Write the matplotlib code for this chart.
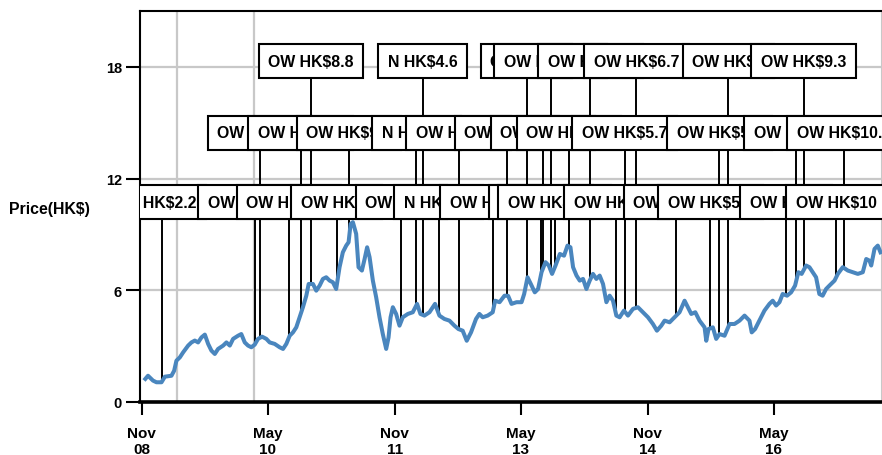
import numpy as np
import pandas as pd
import matplotlib
matplotlib.use("Agg")
import matplotlib.pyplot as plt
import matplotlib.dates as mdates

plt.rcParams['font.family'] = ['Liberation Sans', 'DejaVu Sans']

# ---------------- data ----------------
# price series: time in decimal years, price in HK$
price_t = [2008.876, 2008.908, 2008.967, 2009.006, 2009.066, 2009.106, 2009.184, 2009.216, 2009.243,
           2009.284, 2009.323, 2009.382, 2009.421, 2009.461, 2009.500, 2009.540, 2009.580, 2009.619,
           2009.658, 2009.698, 2009.737, 2009.797, 2009.836, 2009.876, 2009.915, 2009.974, 2010.013,
           2010.054, 2010.093, 2010.132, 2010.172, 2010.211, 2010.259, 2010.310, 2010.350, 2010.409,
           2010.468, 2010.508, 2010.547, 2010.587, 2010.626, 2010.665, 2010.705, 2010.744, 2010.784,
           2010.812, 2010.863, 2010.902, 2010.942, 2010.981, 2011.021, 2011.061, 2011.100, 2011.139,
           2011.179, 2011.218, 2011.258, 2011.286, 2011.310, 2011.337, 2011.376, 2011.404, 2011.444,
           2011.476, 2011.506, 2011.535, 2011.574, 2011.613, 2011.653, 2011.692, 2011.732, 2011.760,
           2011.784, 2011.811, 2011.850, 2011.890, 2011.929, 2011.989, 2012.048, 2012.099, 2012.139,
           2012.186, 2012.246, 2012.312, 2012.364, 2012.423, 2012.483, 2012.542, 2012.589, 2012.640,
           2012.688, 2012.739, 2012.798, 2012.838, 2012.877, 2012.936, 2012.996, 2013.023, 2013.075,
           2013.134, 2013.177, 2013.217, 2013.277, 2013.336, 2013.367, 2013.407, 2013.446, 2013.493,
           2013.532, 2013.573, 2013.620, 2013.659, 2013.698, 2013.739, 2013.790, 2013.840, 2013.881,
           2013.916, 2013.947, 2013.988, 2014.027, 2014.066, 2014.106, 2014.145, 2014.184, 2014.224,
           2014.263, 2014.303, 2014.343, 2014.382, 2014.421, 2014.461, 2014.500, 2014.551, 2014.599,
           2014.658, 2014.717, 2014.776, 2014.836, 2014.895, 2014.942, 2014.994, 2015.034, 2015.093,
           2015.152, 2015.211, 2015.271, 2015.310, 2015.350, 2015.398, 2015.448, 2015.508, 2015.528,
           2015.555, 2015.606, 2015.646, 2015.685, 2015.745, 2015.804, 2015.863, 2015.923, 2015.982,
           2016.041, 2016.068, 2016.108, 2016.159, 2016.219, 2016.278, 2016.317, 2016.357, 2016.397,
           2016.435, 2016.487, 2016.535, 2016.582, 2016.621, 2016.660, 2016.713, 2016.752, 2016.791,
           2016.831, 2016.870, 2016.909, 2016.950, 2016.989, 2017.048, 2017.087, 2017.146, 2017.206,
           2017.265, 2017.324, 2017.383, 2017.424, 2017.463, 2017.483, 2017.522, 2017.561, 2017.593]
price_v = [1.24, 1.41, 1.15, 1.06, 1.06, 1.36, 1.41, 1.68, 2.22,
           2.40, 2.67, 3.03, 3.20, 3.30, 3.20, 3.47, 3.62, 3.12,
           2.76, 2.58, 2.85, 3.03, 3.20, 3.03, 3.39, 3.56, 3.65,
           3.20, 3.03, 2.94, 3.08, 3.39, 3.51, 3.39, 3.20, 3.12,
           2.94, 2.85, 3.12, 3.56, 3.74, 4.01, 4.55, 5.09, 5.71,
           6.34, 6.34, 5.98, 6.25, 6.61, 6.70, 6.52, 6.43, 6.07,
           7.24, 8.04, 8.40, 8.58, 9.56, 9.66, 9.03, 7.24, 7.06,
           7.68, 8.31, 7.78, 6.52, 5.63, 4.55, 3.65, 2.85, 3.47,
           4.55, 5.09, 4.73, 4.10, 4.55, 4.73, 4.82, 5.27, 4.73,
           4.64, 4.82, 5.27, 4.64, 4.46, 4.37, 4.10, 3.92, 3.83,
           3.29, 3.74, 4.46, 4.73, 4.55, 4.64, 4.82, 5.44, 5.36,
           5.71, 5.70, 5.27, 5.36, 5.36, 5.80, 6.70, 6.34, 5.89,
           6.07, 6.97, 7.51, 7.33, 6.88, 7.33, 7.95, 7.86, 8.40,
           8.31, 7.24, 6.79, 6.52, 6.61, 6.07, 6.52, 6.88, 6.61,
           6.79, 6.34, 5.36, 5.71, 5.44, 4.64, 4.55, 4.91, 4.64,
           5.00, 5.09, 4.82, 4.55, 4.19, 3.83, 4.10, 4.37, 4.28,
           4.55, 4.82, 5.44, 5.09, 4.73, 4.82, 4.37, 4.01, 3.29,
           3.92, 4.01, 3.39, 3.65, 3.56, 4.19, 4.19, 4.37, 4.64,
           4.37, 3.74, 3.92, 4.37, 4.91, 5.27, 5.44, 5.18, 5.36,
           5.80, 5.71, 5.89, 6.25, 6.97, 6.88, 7.33, 7.24, 6.97,
           6.70, 5.80, 5.71, 6.07, 6.25, 6.52, 6.88, 7.24, 7.06,
           6.97, 6.88, 6.97, 7.68, 7.59, 7.33, 8.22, 8.40, 8.04]

# analyst rating events, three label rows
row1_t = [2010.839, 2012.166, 2013.395, 2013.683, 2014.153, 2014.698, 2015.788, 2016.684]
row1_labels = ['OW HK$8.8', 'N HK$4.6', 'OW HK$7', 'OW HK$10.2', 'OW HK$7.5', 'OW HK$6.7',
               'OW HK$6', 'OW HK$9.3']
row2_t = [2010.235, 2010.717, 2011.289, 2012.092, 2012.593, 2013.162, 2013.588, 2013.896,
          2014.560, 2015.685, 2016.597, 2017.160]
row2_labels = ['OW HK$4.2', 'OW HK$5.6', 'OW HK$9.5', 'N HK$5.0', 'OW HK$5.5', 'OW HK$6.3',
               'OW HK$8.0', 'OW HK$9.0', 'OW HK$5.7', 'OW HK$5.2', 'OW HK$7.4', 'OW HK$10.5']
row3_t = [2009.074, 2010.172, 2010.578, 2011.147, 2011.909, 2012.356, 2012.996, 2013.564,
          2013.730, 2014.461, 2015.172, 2015.578, 2016.475, 2017.068]
row3_labels = ['N HK$2.2', 'OW HK$4.15', 'OW HK$3.5', 'OW HK$8', 'OW HK$6', 'N HK$4.8',
               'OW HK$5.8', 'OW HK$7.9', 'OW HK$10.2', 'OW HK$6.8', 'OW HK$5.4', 'OW HK$5.1',
               'OW HK$7', 'OW HK$10']
row_levels = [18.3, 14.47, 10.73]

marker_t = [2009.246, 2010.164]   # light grey vertical reference lines

tick_dates = ['2008-11-01', '2010-05-01', '2011-11-01', '2013-05-01', '2014-11-01', '2016-05-01']
tick_labels = ['Nov\n08', 'May\n10', 'Nov\n11', 'May\n13', 'Nov\n14', 'May\n16']
y_ticks = [0, 6, 12, 18]


def to_date(v):
    v = np.asarray(v, dtype=float)
    yrs = np.floor(v).astype(int)
    out = [pd.Timestamp(int(y), 1, 1) + pd.Timedelta(days=float((x - y) * 365.25))
           for x, y in zip(v, yrs)]
    return pd.DatetimeIndex(out)


# ---------------- figure ----------------
W, H = 882, 456
fig = plt.figure(figsize=(W / 100, H / 100), dpi=100)
ax = fig.add_axes([140 / W, (H - 403) / H, 741.5 / W, (403 - 12) / H])

pdates = to_date(price_t)
pnum = mdates.date2num(pdates)

grid_c = '#c8c8c8'
for m in to_date(marker_t):
    ax.axvline(m, color=grid_c, lw=1.6, zorder=1)

ax.plot(pdates, price_v, color='#4A86BE', lw=2.9, zorder=4, solid_joinstyle='round')

rows = [(row1_t, row1_labels), (row2_t, row2_labels), (row3_t, row3_labels)]
for (rt, rl), lev in zip(rows, row_levels):
    ed = to_date(rt)
    pv = np.interp(mdates.date2num(ed), pnum, price_v)
    ax.vlines(ed, pv, lev, color='black', lw=1.4, zorder=3)

z = 6
for (rt, rl), lev in zip(rows, row_levels):
    for d, lab in zip(to_date(rt), rl):
        ax.text(d, lev, lab, ha='center', va='center', fontsize=11.4, fontweight='bold',
                color='black', zorder=z, clip_on=True,
                bbox=dict(boxstyle='square,pad=0.6', fc='white', ec='black', lw=1.5))
        z += 0.01

ax.set_ylim(0, 21)
ax.set_xlim(to_date([2008.813])[0], to_date([2017.605])[0])
ax.set_yticks(y_ticks)
ax.set_yticklabels([str(v) for v in y_ticks])
ax.set_xticks(pd.to_datetime(tick_dates))
ax.set_xticklabels(tick_labels)
ax.yaxis.grid(True, color=grid_c, lw=1.6)
ax.set_axisbelow(True)

for lab in ax.get_xticklabels() + ax.get_yticklabels():
    lab.set_fontweight('bold')
ax.tick_params(axis='y', length=10, width=1.5, pad=3, labelsize=10.5)
ax.tick_params(axis='x', length=9, width=1.5, pad=8, labelsize=11)

for s in ['top', 'left']:
    ax.spines[s].set_color('black')
    ax.spines[s].set_linewidth(1.5)
ax.spines['bottom'].set_color('black')
ax.spines['bottom'].set_linewidth(2.6)
ax.spines['right'].set_color(grid_c)
ax.spines['right'].set_linewidth(1.5)

fig.text(9 / W, 1 - 210 / H, 'Price(HK$)', fontsize=11.4, fontweight='bold',
         ha='left', va='center')

fig.savefig('out.png', dpi=100)
